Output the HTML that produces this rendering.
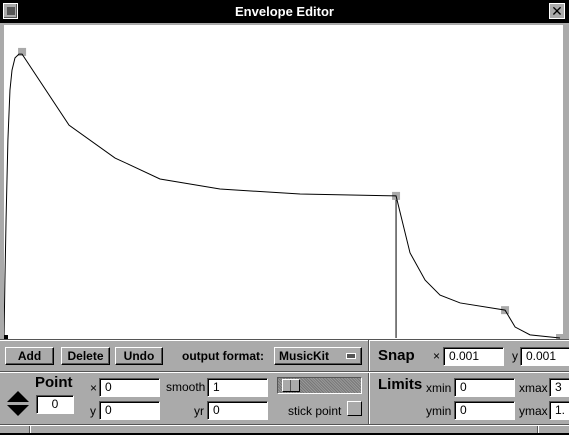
<!DOCTYPE html>
<html><head><meta charset="utf-8"><style>
*{box-sizing:border-box;margin:0;padding:0}
body{width:569px;height:435px;background:#aaa;font-family:"Liberation Sans",sans-serif;position:relative;overflow:hidden}
.abs{position:absolute}
.btn{position:absolute;background:#aaa;border:1px solid;border-color:#fff #000 #000 #fff;box-shadow:inset -1px -1px 0 #555;font-weight:bold;font-size:12px;text-align:center;line-height:16px}
.inp{position:absolute;background:#fff;border:1px solid;border-color:#555 #fff #fff #555;box-shadow:inset 1px 1px 0 #000;font-size:12px;padding-left:5px;line-height:16px}
.lbl{position:absolute;font-size:12px;line-height:16px}
.hl{position:absolute;height:2px;border-top:1px solid #555;border-bottom:1px solid #fff}
.vl{position:absolute;width:2px;border-left:1px solid #555;border-right:1px solid #fff}
</style></head><body>
<div class="abs" style="left:0;top:0;width:569px;height:23px;background:#000;color:#fff;font-weight:bold;font-size:13px;text-align:center;line-height:23px">Envelope Editor</div>
<div class="abs" style="left:3px;top:3px;width:15px;height:16px;background:#aaa;border:1px solid #fff;box-shadow:inset -1px -1px 0 #555"><div style="margin:3px;width:8px;height:8px;background:#555"></div></div>
<div class="abs" style="left:549px;top:3px;width:16px;height:16px;background:#aaa;border:1px solid #fff;font-size:14px;line-height:14px;text-align:center">✕</div>
<div class="abs" style="left:0;top:23px;width:569px;height:317px;background:#aaa"></div>
<svg class="abs" style="left:4px;top:25px" width="559" height="315" id="plot"></svg>
<script>
const curveX=[0,0.005,0.011,0.021,0.032,0.043,0.059,0.08,0.097,0.349,0.596,0.676,0.837,1.159,1.589,2.104,2.179,2.26,2.34,2.448,2.689,2.743,2.823,2.984];
const curveY=[0,0.185,0.377,0.633,0.792,0.856,0.895,0.907,0.907,0.68,0.575,0.553,0.508,0.476,0.46,0.454,0.272,0.185,0.137,0.112,0.089,0.035,0.01,0];
const breakX=[0.097,2.104,2.689,2.984];
const breakY=[0.914,0.454,0.089,0];
const stickX=2.104;
const xmax=3,ymax=1;
const W=559,H=313;
const sx=v=>v/xmax*W, sy=v=>H-v/ymax*H;
const svg=document.getElementById('plot');const NS='http://www.w3.org/2000/svg';
const bg=document.createElementNS(NS,'rect');bg.setAttribute('width',559);bg.setAttribute('height',315);bg.setAttribute('fill','#fff');


svg.appendChild(bg);
const sl=document.createElementNS(NS,'line');sl.setAttribute('x1',sx(stickX));sl.setAttribute('x2',sx(stickX));sl.setAttribute('y1',sy(breakY[1]));sl.setAttribute('y2',H);sl.setAttribute('stroke','#000');


svg.appendChild(sl);
breakX.forEach((x,i)=>{const r=document.createElementNS(NS,'rect');r.setAttribute('x',sx(x)-4);r.setAttribute('y',sy(breakY[i])-4);r.setAttribute('width',8);r.setAttribute('height',8);r.setAttribute('fill','#aaa');


svg.appendChild(r);});
const p=document.createElementNS(NS,'polyline');p.setAttribute('points',curveX.map((x,i)=>sx(x)+','+sy(curveY[i])).join(' '));p.setAttribute('fill','none');p.setAttribute('stroke','#000');


svg.appendChild(p);
const o=document.createElementNS(NS,'rect');o.setAttribute('x',0);o.setAttribute('y',H-3);o.setAttribute('width',4);o.setAttribute('height',4);


svg.appendChild(o);
</script>
<div class="hl" style="left:0;top:339px;width:569px"></div>
<div class="btn" style="left:5px;top:347px;width:49px;height:18px">Add</div>
<div class="btn" style="left:61px;top:347px;width:49px;height:18px">Delete</div>
<div class="btn" style="left:115px;top:347px;width:48px;height:18px">Undo</div>
<div class="lbl" style="left:182px;top:348px;font-weight:bold">output format:</div>
<div class="btn" style="left:274px;top:347px;width:88px;height:18px;text-align:left;padding-left:4px">MusicKit<span style="position:absolute;right:5px;top:5px;width:10px;height:6px;background:#555;border:1px solid #fff"></span></div>
<div class="vl" style="left:368px;top:340px;height:85px"></div>
<div class="hl" style="left:0;top:371px;width:569px"></div>
<div class="lbl" style="left:378px;top:348px;font-weight:bold;font-size:15px">Snap</div>
<div class="lbl" style="left:433px;top:348px">×</div>
<div class="inp" style="left:443px;top:347px;width:61px;height:19px">0.001</div>
<div class="lbl" style="left:512px;top:348px">y</div>
<div class="inp" style="left:520px;top:347px;width:52px;height:19px">0.001</div>
<div class="abs" style="left:7px;top:391px;width:0;height:0;border-left:11px solid transparent;border-right:11px solid transparent;border-bottom:11px solid #000"></div>
<div class="abs" style="left:7px;top:405px;width:0;height:0;border-left:11px solid transparent;border-right:11px solid transparent;border-top:11px solid #000"></div>
<div class="lbl" style="left:35px;top:375px;font-weight:bold;font-size:15px">Point</div>
<div class="inp" style="left:36px;top:395px;width:38px;height:19px;text-align:center;padding:0">0</div>
<div class="lbl" style="left:90px;top:380px">×</div>
<div class="inp" style="left:99px;top:378px;width:61px;height:19px">0</div>
<div class="lbl" style="left:90px;top:403px">y</div>
<div class="inp" style="left:99px;top:401px;width:61px;height:19px">0</div>
<div class="lbl" style="left:166px;top:379px">smooth</div>
<div class="inp" style="left:207px;top:378px;width:61px;height:19px">1</div>
<div class="lbl" style="left:194px;top:403px">yr</div>
<div class="inp" style="left:207px;top:401px;width:61px;height:19px">0</div>
<div class="abs" style="left:277px;top:377px;width:85px;height:17px;border:1px solid;border-color:#555 #fff #fff #555;background:repeating-linear-gradient(45deg,#777 0 1px,#999 1px 2px)"><div style="position:absolute;left:4px;top:1px;width:18px;height:13px;background:#aaa;border:1px solid;border-color:#fff #000 #000 #fff"><div style="position:absolute;left:7px;top:0;width:1px;height:11px;background:#555"></div></div></div>
<div class="lbl" style="left:288px;top:403px">stick point</div>
<div class="abs" style="left:347px;top:401px;width:15px;height:15px;border:1px solid;border-color:#fff #000 #000 #fff;background:#aaa"></div>
<div class="lbl" style="left:378px;top:377px;font-weight:bold;font-size:15px">Limits</div>
<div class="lbl" style="left:426px;top:380px">xmin</div>
<div class="inp" style="left:454px;top:378px;width:61px;height:19px">0</div>
<div class="lbl" style="left:519px;top:380px">xmax</div>
<div class="inp" style="left:549px;top:378px;width:25px;height:19px">3</div>
<div class="lbl" style="left:426px;top:403px">ymin</div>
<div class="inp" style="left:454px;top:401px;width:61px;height:19px">0</div>
<div class="lbl" style="left:519px;top:403px">ymax</div>
<div class="inp" style="left:549px;top:401px;width:25px;height:19px">1.</div>
<div class="hl" style="left:0;top:424px;width:569px"></div>
<div class="vl" style="left:29px;top:426px;height:9px"></div>
<div class="vl" style="left:537px;top:426px;height:9px"></div>
<div class="abs" style="left:0;top:433px;width:569px;height:2px;background:#000"></div>
</body></html>
